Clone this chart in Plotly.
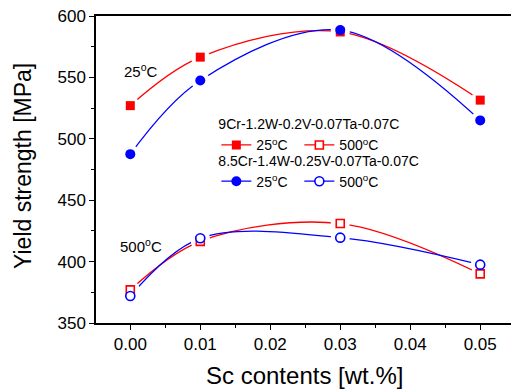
import plotly.graph_objects as go

sc = [0.00, 0.01, 0.03, 0.05]
red_25 = [527, 566.5, 587, 531.5]
blue_25 = [487.5, 547.5, 588.5, 515]
red_500 = [377, 416.5, 431, 390]
blue_500 = [372, 419, 419.5, 397.5]

alloy1 = "9Cr-1.2W-0.2V-0.07Ta-0.07C"
alloy2 = "8.5Cr-1.4W-0.25V-0.07Ta-0.07C"
x_ticks = [0.00, 0.01, 0.02, 0.03, 0.04, 0.05]
x_ticklabels = ["0.00", "0.01", "0.02", "0.03", "0.04", "0.05"]
y_ticks = [350, 400, 450, 500, 550, 600]

RED = "#FF0000"
BLUE = "#0000FF"
FONT = "Liberation Sans, Arial, sans-serif"

series = [
    (red_25, RED, "square", True, "legend", "25<sup>o</sup>C"),
    (red_500, RED, "square", False, "legend", "500<sup>o</sup>C"),
    (blue_25, BLUE, "circle", True, "legend2", "25<sup>o</sup>C"),
    (blue_500, BLUE, "circle", False, "legend2", "500<sup>o</sup>C"),
]

fig = go.Figure()

def marker_spec(color, sym, filled, size):
    if filled:
        return dict(symbol=sym, size=size, color=color, line=dict(width=0))
    return dict(symbol=sym, size=size - 1, color="white", line=dict(color=color, width=1.6))

for ys, col, sym, filled, leg, name in series:
    size = 9 if sym == "square" else 10
    fig.add_trace(go.Scatter(
        x=sc, y=ys, mode="lines+markers", name=name, legend=leg,
        line=dict(color=col, width=1.3, shape="spline", smoothing=1.0),
        marker=marker_spec(col, sym, filled, size), showlegend=True,
    ))
for ys, col, sym, filled, leg, name in series:
    fig.add_trace(go.Scatter(
        x=sc, y=ys, mode="markers", showlegend=False, hoverinfo="skip",
        marker=dict(symbol="circle", size=19, color="white", line=dict(width=0)),
    ))
for ys, col, sym, filled, leg, name in series:
    size = 9 if sym == "square" else 10
    fig.add_trace(go.Scatter(
        x=sc, y=ys, mode="markers", showlegend=False,
        marker=marker_spec(col, sym, filled, size),
    ))

fig.add_annotation(x=-0.0012, y=556, xref="x", yref="y", text="25<sup>o</sup>C",
                   showarrow=False, xanchor="left", font=dict(family=FONT, size=15, color="black"))
fig.add_annotation(x=-0.0018, y=413, xref="x", yref="y", text="500<sup>o</sup>C",
                   showarrow=False, xanchor="left", font=dict(family=FONT, size=15, color="black"))

fig.add_annotation(x=(304 - 96) / 415, y=(323 - 375) / 307, xref="paper", yref="paper",
                   text="Sc contents [wt.%]", showarrow=False, xanchor="center", yanchor="middle",
                   font=dict(family=FONT, size=24, color="black"))
fig.add_annotation(x=(23 - 96) / 415, y=(323 - 166) / 307, xref="paper", yref="paper",
                   text="Yield strength [MPa]", showarrow=False, textangle=-90,
                   xanchor="center", yanchor="middle",
                   font=dict(family=FONT, size=23, color="black"))

legend_common = dict(
    orientation="h", bgcolor="rgba(0,0,0,0)", borderwidth=0,
    font=dict(family=FONT, size=14, color="black"),
    xanchor="left", yanchor="top", entrywidth=38, entrywidthmode="pixels",
    itemwidth=30, tracegroupgap=0,
)

fig.update_layout(
    width=511, height=390,
    margin=dict(l=96, r=0, t=16, b=67, autoexpand=False),
    paper_bgcolor="white", plot_bgcolor="white",
    font=dict(family=FONT, color="black"),
    legend=dict(**legend_common, x=0.29, y=0.69,
                title=dict(text=alloy1, side="top", font=dict(family=FONT, size=14, color="black"))),
    legend2=dict(**legend_common, x=0.29, y=0.572,
                 title=dict(text=alloy2, side="top", font=dict(family=FONT, size=14, color="black"))),
    xaxis=dict(
        range=[-0.0049, 0.0544], tickvals=x_ticks, ticktext=x_ticklabels,
        ticks="outside", ticklen=5, tickwidth=1.2, tickcolor="black",
        showline=True, linecolor="black", linewidth=1.5, mirror=True,
        showgrid=False, zeroline=False, automargin=False,
        tickfont=dict(family=FONT, size=17, color="black"),
        minor=dict(dtick=0.005, tick0=0, ticks="outside", ticklen=3, tickcolor="black", showgrid=False),
    ),
    yaxis=dict(
        range=[350, 600], tickvals=y_ticks,
        ticks="outside", ticklen=5, tickwidth=1.2, tickcolor="black",
        showline=True, linecolor="black", linewidth=1.5,
        showgrid=False, zeroline=False, automargin=False,
        tickfont=dict(family=FONT, size=17, color="black"),
        minor=dict(dtick=25, tick0=350, ticks="outside", ticklen=3, tickcolor="black", showgrid=False),
    ),
)

fig.write_html(
    "out.html",
    config={"displayModeBar": False},
    post_script="document.body.style.margin='0';document.body.style.overflow='hidden';",
)
